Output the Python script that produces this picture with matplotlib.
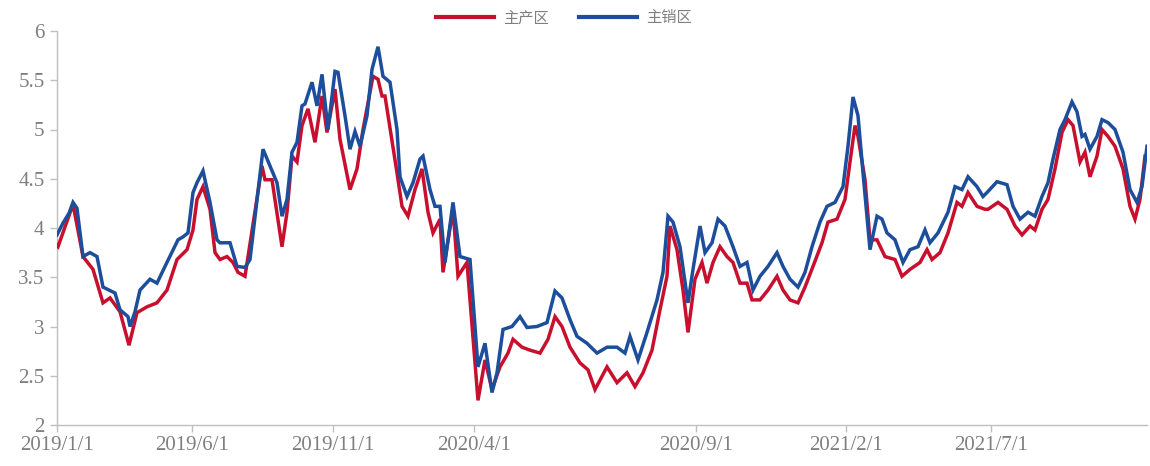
import matplotlib
matplotlib.use("Agg")
import matplotlib.pyplot as plt

# observation index (category position) and values
blue_x = [0, 6, 12, 16, 20, 26, 33, 40, 46, 58, 63, 71, 73, 78, 83, 93, 100, 108, 121, 126, 131, 136, 140, 146,
          153, 160, 163, 173, 180, 188, 193, 206, 213, 220, 225, 230, 235, 240, 245, 248, 255, 260, 265, 271,
          278, 281, 288, 293, 298, 303, 310, 315, 321, 326, 333, 340, 343, 350, 356, 363, 366, 373, 378, 383,
          388, 396, 403, 413, 421, 428, 435, 440, 446, 455, 463, 470, 480, 490, 498, 505, 513, 520, 530, 540,
          550, 560, 568, 573, 581, 590, 593, 600, 606, 611, 616, 623, 631, 636, 643, 648, 655, 661, 668, 676,
          683, 690, 696, 703, 711, 720, 726, 733, 741, 748, 755, 763, 770, 778, 786, 791, 796, 801, 806, 813,
          820, 825, 830, 838, 846, 853, 861, 868, 873, 881, 891, 898, 905, 911, 920, 926, 930, 940, 950, 956,
          963, 971, 978, 985, 991, 996, 1003, 1008, 1015, 1020, 1025, 1028, 1033, 1040, 1045, 1051, 1058,
          1066, 1073, 1080, 1085, 1090]
blue_y = [3.93, 4.05, 4.15, 4.26, 4.20, 3.71, 3.75, 3.71, 3.40, 3.34, 3.17, 3.10, 3.00, 3.15, 3.37, 3.48, 3.44,
          3.61, 3.88, 3.91, 3.95, 4.36, 4.46, 4.58, 4.26, 3.88, 3.85, 3.85, 3.61, 3.60, 3.68, 4.80, 4.63, 4.46,
          4.12, 4.29, 4.77, 4.87, 5.24, 5.26, 5.48, 5.24, 5.56, 5.00, 5.59, 5.58, 5.14, 4.80, 4.98, 4.83, 5.14,
          5.61, 5.84, 5.54, 5.48, 5.00, 4.52, 4.32, 4.46, 4.70, 4.73, 4.39, 4.22, 4.22, 3.65, 4.26, 3.71, 3.68,
          2.59, 2.83, 2.33, 2.53, 2.97, 3.00, 3.10, 2.99, 3.00, 3.04, 3.36, 3.29, 3.07, 2.90, 2.83, 2.73, 2.79,
          2.79, 2.73, 2.90, 2.66, 2.94, 3.04, 3.27, 3.55, 4.12, 4.06, 3.81, 3.24, 3.58, 4.02, 3.75, 3.85, 4.09,
          4.02, 3.81, 3.61, 3.65, 3.37, 3.51, 3.61, 3.75, 3.61, 3.48, 3.40, 3.55, 3.81, 4.06, 4.22, 4.26, 4.42,
          4.83, 5.33, 5.14, 4.56, 3.78, 4.12, 4.09, 3.95, 3.88, 3.65, 3.78, 3.81, 3.98, 3.85, 3.95, 4.16, 4.42,
          4.39, 4.52, 4.42, 4.32, 4.36, 4.47, 4.44, 4.22, 4.09, 4.16, 4.12, 4.32, 4.46, 4.70, 5.00, 5.10, 5.28,
          5.18, 4.93, 4.95, 4.80, 4.93, 5.10, 5.07, 5.00, 4.77, 4.39, 4.26, 4.42, 4.83]

red_x = [0, 1, 16, 26, 36, 46, 53, 63, 72, 80, 90, 100, 110, 120, 130, 136, 140, 146, 153, 158, 163, 170, 176,
         181, 188, 205, 208, 215, 225, 230, 235, 240, 245, 251, 258, 265, 270, 278, 283, 293, 300, 306, 316,
         321, 325, 328, 340, 345, 351, 358, 365, 371, 376, 383, 386, 396, 401, 410, 421, 428, 435, 443, 451,
         456, 465, 473, 483, 491, 498, 505, 513, 523, 531, 538, 550, 560, 570, 578, 586, 595, 603, 610, 613,
         620, 626, 631, 638, 645, 650, 656, 663, 670, 676, 683, 690, 695, 703, 711, 720, 726, 733, 741, 748,
         756, 765, 771, 780, 788, 793, 798, 801, 808, 813, 820, 828, 838, 845, 853, 863, 870, 875, 883, 891,
         900, 905, 911, 920, 928, 931, 941, 950, 958, 965, 973, 978, 985, 991, 998, 1005, 1011, 1016, 1023,
         1028, 1033, 1040, 1045, 1051, 1058, 1066, 1073, 1078, 1083, 1088]
red_y = [3.82, 3.81, 4.24, 3.71, 3.58, 3.24, 3.29, 3.15, 2.81, 3.14, 3.20, 3.24, 3.37, 3.68, 3.78, 3.98, 4.29,
         4.42, 4.19, 3.75, 3.68, 3.71, 3.65, 3.55, 3.51, 4.63, 4.49, 4.49, 3.81, 4.16, 4.73, 4.67, 5.04, 5.21,
         4.87, 5.34, 4.97, 5.41, 4.90, 4.39, 4.60, 5.00, 5.54, 5.51, 5.34, 5.34, 4.56, 4.22, 4.12, 4.39, 4.60,
         4.16, 3.95, 4.09, 3.55, 4.19, 3.51, 3.65, 2.25, 2.66, 2.36, 2.59, 2.73, 2.87, 2.79, 2.76, 2.73, 2.87,
         3.10, 3.00, 2.79, 2.63, 2.56, 2.36, 2.59, 2.43, 2.53, 2.39, 2.53, 2.76, 3.17, 3.51, 4.02, 3.78, 3.37,
         2.94, 3.48, 3.65, 3.44, 3.65, 3.81, 3.71, 3.65, 3.44, 3.44, 3.27, 3.27, 3.37, 3.51, 3.37, 3.27, 3.24,
         3.40, 3.61, 3.85, 4.06, 4.09, 4.29, 4.67, 5.04, 4.93, 4.49, 3.88, 3.88, 3.71, 3.68, 3.51, 3.58, 3.65,
         3.78, 3.68, 3.75, 3.95, 4.26, 4.22, 4.36, 4.22, 4.19, 4.19, 4.26, 4.19, 4.02, 3.93, 4.02, 3.98, 4.19,
         4.29, 4.60, 4.97, 5.10, 5.04, 4.67, 4.77, 4.52, 4.73, 5.00, 4.93, 4.83, 4.60, 4.22, 4.09, 4.29, 4.73]

tick_pos = [0, 135, 276, 417, 639, 789, 934]
tick_labels = ["2019/1/1", "2019/6/1", "2019/11/1", "2020/4/1", "2020/9/1", "2021/2/1", "2021/7/1"]
series_names = ["主产区", "主销区"]

RED = "#C8102E"
BLUE = "#1D4E9B"
GRAY = "#7f7f7f"

fig = plt.figure(figsize=(11.5, 4.66), dpi=100)
ax = fig.add_axes([57/1150, 41/466, 1090/1150, 394/466])

ax.plot(red_x, red_y, color=RED, lw=2.5, label=series_names[0], zorder=3, solid_joinstyle="miter")
ax.plot(blue_x, blue_y, color=BLUE, lw=2.5, label=series_names[1], zorder=4, solid_joinstyle="miter")

ax.set_xlim(0, 1090)
ax.set_ylim(2, 6)
ax.set_yticks([2, 2.5, 3, 3.5, 4, 4.5, 5, 5.5, 6])
ax.set_yticklabels(["2", "2.5", "3", "3.5", "4", "4.5", "5", "5.5", "6"])
ax.set_xticks(tick_pos)
ax.set_xticklabels(tick_labels)

for s in ["top", "right"]:
    ax.spines[s].set_visible(False)
for s in ["left", "bottom"]:
    ax.spines[s].set_color("#bfbfbf")
    ax.spines[s].set_linewidth(1.0)
ax.tick_params(axis="both", colors="#bfbfbf", length=5, width=1.0)
ax.tick_params(axis="y", pad=4)
ax.tick_params(axis="x", pad=3)
for lab in ax.get_xticklabels() + ax.get_yticklabels():
    lab.set_color(GRAY)
    lab.set_fontfamily("Liberation Serif")
    lab.set_fontsize(15)

leg = ax.legend(loc="upper center", bbox_to_anchor=(0.465, 1.09), ncol=2, frameon=False,
                handlelength=3.8, columnspacing=2.0, handletextpad=0.6,
                prop={"family": ["Noto Sans CJK SC"], "size": 11})
for t in leg.get_texts():
    t.set_color(GRAY)
for h in leg.get_lines():
    h.set_linewidth(3)

fig.savefig("out.png", dpi=100)
